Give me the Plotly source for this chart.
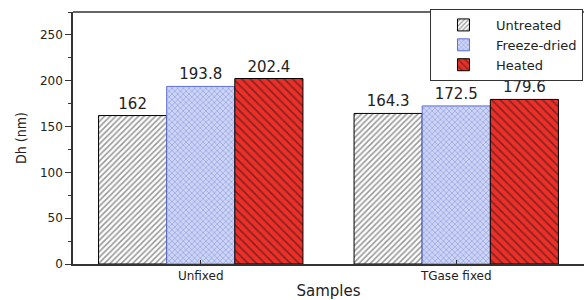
import plotly.graph_objects as go

categories = ["Unfixed", "TGase fixed"]
untreated = [162, 164.3]
freeze_dried = [193.8, 172.5]
heated = [202.4, 179.6]
y_ticks = [0, 50, 100, 150, 200, 250]

fig = go.Figure()
fig.add_trace(go.Bar(
    name="Untreated", x=categories, y=untreated,
    text=[str(v) for v in untreated], textposition="outside",
    marker=dict(color="white", line=dict(color="black", width=1),
                pattern=dict(shape="/", fgcolor="#333333", bgcolor="white", size=4, solidity=0.4)),
))
fig.add_trace(go.Bar(
    name="Freeze-dried", x=categories, y=freeze_dried,
    text=[str(v) for v in freeze_dried], textposition="outside",
    marker=dict(color="#c0c9f0", line=dict(color="#5e6ed4", width=1),
                pattern=dict(shape="x", fgcolor="#6476d6", bgcolor="#cdd4f4", size=4, solidity=0.35)),
))
fig.add_trace(go.Bar(
    name="Heated", x=categories, y=heated,
    text=[str(v) for v in heated], textposition="outside",
    marker=dict(color="#e8302a", line=dict(color="black", width=1),
                pattern=dict(shape="\\", fgcolor="#1a1a1a", bgcolor="#ee2f28", size=6, solidity=0.3)),
))

fig.update_traces(textfont=dict(family="DejaVu Sans", size=15, color="#222"), cliponaxis=False)

fig.update_layout(
    width=584, height=300,
    margin=dict(l=73, r=0, t=12, b=36),
    paper_bgcolor="white", plot_bgcolor="white",
    barmode="group", bargap=0.2, bargroupgap=0,
    font=dict(family="DejaVu Sans", color="#222"),
    legend=dict(x=0.998, xanchor="right", y=1.012, yanchor="top",
                bordercolor="#333", borderwidth=1, bgcolor="white",
                font=dict(family="DejaVu Sans", size=13, color="#222"),
                tracegroupgap=0, itemwidth=55),
    showlegend=True,
    xaxis=dict(
        type="category", range=[-0.5, 1.5],
        showline=True, linecolor="#333", linewidth=1.5, mirror=False,
        ticks="inside", ticklen=4, tickcolor="#333",
        tickfont=dict(family="DejaVu Sans", size=12, color="#222"),
        title=dict(text="Samples", font=dict(family="DejaVu Sans", size=15, color="#222"), standoff=6),
        showgrid=False, zeroline=False,
    ),
    yaxis=dict(
        range=[0, 275], tickvals=y_ticks,
        showline=True, linecolor="#333", linewidth=1.5,
        ticks="outside", ticklen=6, tickcolor="#333",
        minor=dict(dtick=25, ticks="outside", ticklen=3, tickcolor="#333"),
        tickfont=dict(family="DejaVu Sans", size=12, color="#222"),
        title=dict(text="Dh (nm)", font=dict(family="DejaVu Sans Condensed", size=14, color="#222"), standoff=10),
        showgrid=False, zeroline=False,
    ),
)

# top frame line
fig.add_shape(type="line", xref="paper", yref="paper", x0=0, x1=1, y0=1, y1=1,
              line=dict(color="#333", width=1.5), layer="below")

fig.write_html("out.html", config={"displayModeBar": False},
               post_script="document.body.style.margin='0';document.body.style.overflow='hidden';")
